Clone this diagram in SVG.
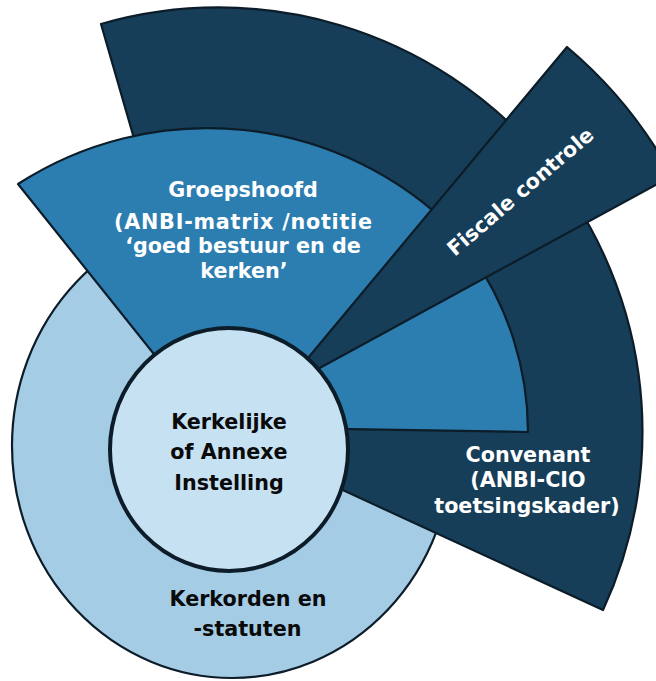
<svg xmlns="http://www.w3.org/2000/svg" width="656" height="681" viewBox="0 0 656 681">
<style>
.sh{stroke:#0c1c28;stroke-width:2.2;stroke-linejoin:round}
.navy{fill:#173e58}
.mid{fill:#2c7eb1}
.light{fill:#a4cde5}
.inner{fill:#c6e1f2;stroke:#0c1c28;stroke-width:4}
text{font-family:"DejaVu Sans","Liberation Sans",sans-serif;font-weight:bold;font-size:20.7px;text-anchor:middle}
.w{fill:#ffffff}
.k{fill:#0a0a0a}
</style>
<rect width="656" height="681" fill="#ffffff"/>
<g id="kerkorden">
<ellipse class="sh light" cx="232" cy="446" rx="220" ry="232"/>
</g>
<g id="convenant">
<path class="sh navy" d="M219 433 L101 24 A424 424 0 0 1 603 610 Z"/>
<text class="w" x="528" y="462">Convenant</text>
<text class="w" x="528" y="487">(ANBI-CIO</text>
<text class="w" x="527" y="513">toetsingskader)</text>
</g>
<g id="groepshoofd">
<path class="sh mid" d="M229 448 L18 184 A349 349 0 0 1 454 230 Z"/>
<path class="sh mid" d="M219 427 L471 254 A308 308 0 0 1 528 432 Z"/>
<text class="w" x="243" y="197">Groepshoofd</text>
<text class="w" x="243" y="229" textLength="258" lengthAdjust="spacing">(ANBI-matrix /notitie</text>
<text class="w" x="243" y="253">‘goed bestuur en de</text>
<text class="w" x="244" y="278">kerken’</text>
</g>
<g id="fiscale">
<path class="sh navy" d="M283 388 L567 47 A443.5 443.5 0 0 1 672 176 Z"/>
<text class="w" transform="translate(525 197) rotate(-40.5)">Fiscale controle</text>
</g>
<g id="instelling">
<ellipse class="inner" cx="229" cy="449.5" rx="119" ry="121.5"/>
<text class="k" x="229" y="429">Kerkelijke</text>
<text class="k" x="229" y="459">of Annexe</text>
<text class="k" x="229" y="489.5">Instelling</text>
</g>
<g id="kerkorden-label">
<text class="k" x="248" y="606">Kerkorden en</text>
<text class="k" x="247.5" y="636">-statuten</text>
</g>
<g id="connectors"></g>
</svg>
